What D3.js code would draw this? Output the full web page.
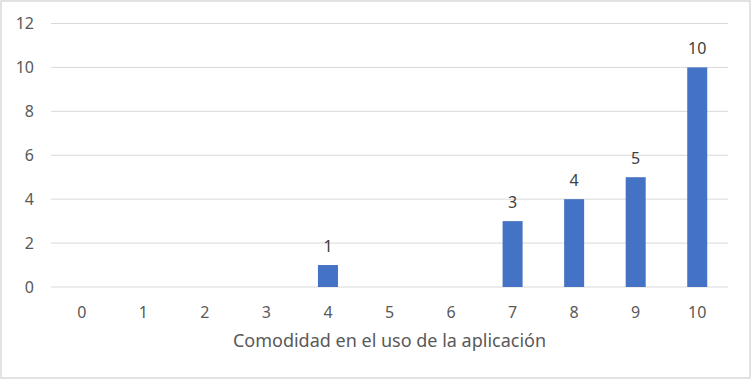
<!DOCTYPE html>
<html><head><meta charset="utf-8">
<script src="https://cdn.jsdelivr.net/npm/d3@7"></script>
<style>body{margin:0;background:#fff}svg{display:block}</style>
</head><body>
<script>
const categories = ["0","1","2","3","4","5","6","7","8","9","10"];
const values = [0,0,0,0,1,0,0,3,4,5,10];
const yTicks = [0,2,4,6,8,10,12];
const xTitle = "Comodidad en el uso de la aplicación";

const W = 752, H = 380;
const m = {left:51, right:24, top:23.5, bottom:93};
const font = "'Noto Sans', 'Open Sans', sans-serif";
const svg = d3.select("body").append("svg").attr("width",W).attr("height",H);
svg.append("rect").attr("x",1).attr("y",1).attr("width",749).attr("height",377)
  .attr("fill","#fff").attr("stroke","#d9d9d9").attr("stroke-width",1.5);

const x = d3.scaleBand().domain(categories).range([m.left, W-m.right]).paddingInner(0.675).paddingOuter(0.3375);
const y = d3.scaleLinear().domain([0,12]).range([H-m.bottom, m.top]);

svg.append("g").selectAll("line").data(yTicks).join("line")
  .attr("x1",m.left).attr("x2",W-m.right)
  .attr("y1",d=>y(d)).attr("y2",d=>y(d))
  .attr("stroke","#d9d9d9").attr("stroke-width",1);

svg.append("g").selectAll("text").data(yTicks).join("text")
  .attr("x",34).attr("y",d=>y(d)).attr("dy","0.35em").attr("text-anchor","end")
  .attr("font-family",font).attr("font-size",16).attr("fill","#595959").text(d=>d);

svg.append("g").selectAll("text").data(categories).join("text")
  .attr("x",d=>x(d)+x.bandwidth()/2).attr("y",318).attr("text-anchor","middle")
  .attr("font-family",font).attr("font-size",16).attr("fill","#595959").text(d=>d);

svg.append("g").selectAll("rect").data(values).join("rect")
  .attr("x",(d,i)=>x(categories[i])).attr("width",x.bandwidth())
  .attr("y",d=>y(d)).attr("height",d=>y(0)-y(d)).attr("fill","#4472c4");

svg.append("g").selectAll("text").data(values).join("text")
  .attr("x",(d,i)=>x(categories[i])+x.bandwidth()/2).attr("y",d=>y(d)-13)
  .attr("text-anchor","middle").attr("font-family",font).attr("font-size",16).attr("fill","#404040")
  .text(d=>d>0?d:"");

svg.append("text").attr("x",(m.left+W-m.right)/2).attr("y",347).attr("text-anchor","middle")
  .attr("font-family",font).attr("font-size",18).attr("fill","#595959").text(xTitle);
</script>
</body></html>
